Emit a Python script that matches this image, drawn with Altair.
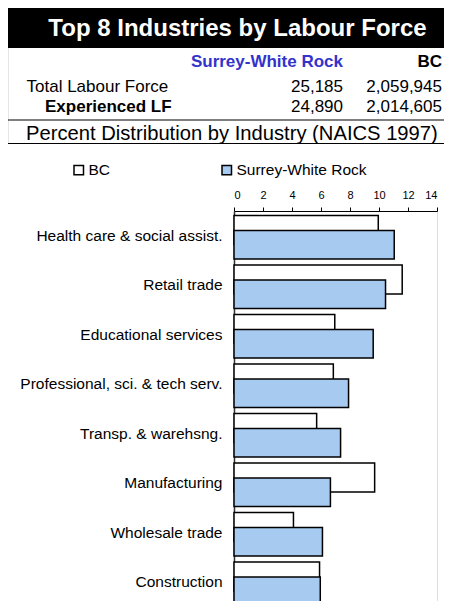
import altair as alt
import pandas as pd

# ---------------- data ----------------
categories = [
    "Health care & social assist.",
    "Retail trade",
    "Educational services",
    "Professional, sci. & tech serv.",
    "Transp. & warehsng.",
    "Manufacturing",
    "Wholesale trade",
    "Construction",
]
bc_values = [9.95, 11.6, 6.95, 6.85, 5.7, 9.7, 4.1, 5.9]
surrey_values = [11.05, 10.45, 9.6, 7.9, 7.35, 6.65, 6.1, 5.95]
series_names = ["BC", "Surrey-White Rock"]
x_ticks = [0, 2, 4, 6, 8, 10, 12, 14]

title_text = "Top 8 Industries by Labour Force"
subtitle_text = "Percent Distribution by Industry (NAICS 1997)"
table_rows = ["Total Labour Force", "Experienced LF"]
table_surrey = ["25,185", "24,890"]
table_bc = ["2,059,945", "2,014,605"]

FONT = "Liberation Sans"

df = pd.DataFrame(
    {
        "industry": categories * 2,
        "pct": bc_values + surrey_values,
        "series": [series_names[0]] * len(categories) + [series_names[1]] * len(categories),
    }
)

# plot-area origin on the page is (234, 211); helpers convert page px to plot px
OX, OY = 234, 211


def px(v):
    return v - OX


def py(v):
    return v - OY


one = pd.DataFrame({"k": [0]})

x_enc = alt.X(
    "pct:Q",
    scale=alt.Scale(domain=[0, 14], nice=False, zero=True),
    axis=alt.Axis(
        orient="top",
        values=x_ticks,
        format="d",
        title=None,
        grid=False,
        tickSize=4,
        tickColor="black",
        domainColor="black",
        labelPadding=7,
        labelFontSize=11,
        labelFont=FONT,
        labelColor="black",
    ),
)
y_enc = alt.Y(
    "industry:N",
    sort=categories,
    scale=alt.Scale(paddingInner=0, paddingOuter=0),
    axis=alt.Axis(
        title=None,
        orient="left",
        ticks=False,
        labelPadding=12,
        labelFontSize=15.5,
        labelFont=FONT,
        labelColor="black",
        labelLimit=300,
        domainColor="#333333",
        domainWidth=1.5,
    ),
)
fill_enc = alt.Fill(
    "series:N",
    scale=alt.Scale(domain=series_names, range=["#FFFFFF", "#A6CAF0"]),
    legend=alt.Legend(
        title=None,
        orient="none",
        direction="horizontal",
        legendX=px(71),
        legendY=py(162),
        symbolType="square",
        symbolSize=90,
        symbolStrokeColor="black",
        symbolStrokeWidth=1.5,
        labelFontSize=15.5,
        labelFont=FONT,
        labelColor="black",
        labelOffset=2,
        columnPadding=108,
    ),
)

bc_layer = (
    alt.Chart(df)
    .transform_filter(alt.datum.series == series_names[0])
    .mark_bar(height=29, yOffset=-5.75, stroke="black", strokeWidth=1.5)
    .encode(x=x_enc, y=y_enc, fill=fill_enc)
)
surrey_layer = (
    alt.Chart(df)
    .transform_filter(alt.datum.series == series_names[1])
    .mark_bar(height=28.5, yOffset=9, stroke="black", strokeWidth=1.5)
    .encode(x=x_enc, y=y_enc, fill=fill_enc)
)

# ---------------- header decorations ----------------
band = alt.Chart(one).mark_rect(color="black").encode(
    x=alt.value(px(7)), x2=alt.value(px(452)), y=alt.value(py(8)), y2=alt.value(py(48))
)
title = alt.Chart(one).mark_text(
    text=title_text, font=FONT, fontSize=24, fontWeight="bold", color="white",
    align="center", baseline="alphabetic",
).encode(x=alt.value(px(237.5)), y=alt.value(py(36)))


def hline(x1, x2, y, color="black", w=1.2):
    return alt.Chart(one).mark_rule(color=color, strokeWidth=w).encode(
        x=alt.value(px(x1)), x2=alt.value(px(x2)), y=alt.value(py(y))
    )


def vline(x, y1, y2, color="black", w=1.2):
    return alt.Chart(one).mark_rule(color=color, strokeWidth=w).encode(
        x=alt.value(px(x)), y=alt.value(py(y1)), y2=alt.value(py(y2))
    )


def txt(s, x, y, align="left", bold=False, size=17, color="black"):
    return alt.Chart(one).mark_text(
        text=s, font=FONT, fontSize=size, fontWeight="bold" if bold else "normal",
        color=color, align=align, baseline="alphabetic",
    ).encode(x=alt.value(px(x)), y=alt.value(py(y)))


lines = [
    vline(7.5, 48, 144),
    hline(7, 452, 120),
    hline(7, 452, 143.5),
    vline(6.5, 144, 609, color="#7f7f7f", w=1),
]

texts = [
    txt(series_names[1], 343, 67, align="right", bold=True, color="#3333CC"),
    txt(series_names[0], 442, 67, align="right", bold=True),
    txt(table_rows[0], 26.5, 91.5),
    txt(table_surrey[0], 343, 91.5, align="right"),
    txt(table_bc[0], 442, 91.5, align="right"),
    txt(table_rows[1], 45, 112, bold=True),
    txt(table_surrey[1], 343, 112, align="right"),
    txt(table_bc[1], 442, 112, align="right"),
    txt(subtitle_text, 26, 140, size=20.2),
]

# the page is 452x609 with an 8px margin, so the drawing is 436x593;
# the value axis is a little narrower than the reference's so "14" stays visible
chart = (
    alt.layer(band, title, *lines, *texts, bc_layer, surrey_layer)
    .properties(
        width=203,
        height=396,
        autosize=alt.AutoSizeParams(type="none"),
        padding={"left": 226, "top": 203, "right": 7, "bottom": -6},
    )
    .configure_view(strokeWidth=0)
    .configure(font=FONT)
)

chart.save("out.html", embed_options={"renderer": "svg", "actions": False})
